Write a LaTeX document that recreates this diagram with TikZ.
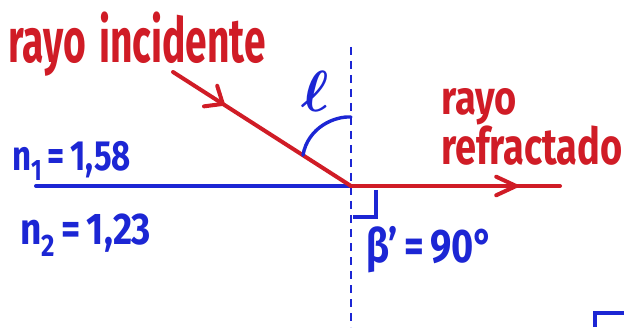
\documentclass[tikz,border=0pt]{standalone}
\usepackage{amsmath}
\usepackage{fontspec}
\setmainfont{Fira Sans}
\usetikzlibrary{calc}
\definecolor{inkred}{RGB}{208,28,38}
\definecolor{inkblue}{RGB}{28,38,212}
\newcommand{\stretchy}[2]{\scalebox{1}[#1]{#2}}
\tikzset{
  redray/.style={draw=inkred, line width=4pt, line cap=round, line join=round},
  blueline/.style={draw=inkblue, line width=4pt, line cap=round},
  normalline/.style={draw=inkblue, line width=2.8pt, dash pattern=on 8pt off 6pt},
  redlabel/.style={text=inkred, inner sep=0pt, font=\bfseries\fontsize{38}{40}\selectfont},
  bluelabel/.style={text=inkblue, inner sep=0pt, font=\bfseries\fontsize{36}{38}\selectfont}
}
\begin{document}
\begin{tikzpicture}[x=1pt, y=1pt]
\useasboundingbox[fill=white] (0,0) rectangle (624,327);
% points
\coordinate (O) at (351,141);
\coordinate (A) at (173,255);
\coordinate (R) at (560,141);
\coordinate (L) at (36,141);
\coordinate (Vt) at (351,280);
\coordinate (Vb) at (351,0);
% normal
\draw[normalline] (Vt) -- (Vb);
% interface
\draw[blueline] (L) -- (O);
% rays
\draw[redray] (O) -- (R);
\draw[redray] (A) -- (O);
% hand-drawn arrowheads
\coordinate (T1) at ($(A)!0.28!(O)$);
\draw[redray] ($(T1)!19pt!40:(A)$) -- (T1) -- ($(T1)!19pt!-40:(A)$);
\coordinate (T2) at ($(O)!0.79!(R)$);
\draw[redray] ($(T2)!22pt!25:(O)$) -- (T2) -- ($(T2)!22pt!-25:(O)$);
% angle arc
\coordinate (arcS) at (351,210);
\coordinate (arcE) at ($(O)!0.27!(A)$);
\draw[blueline, line width=3.4pt] (arcS) .. controls (335,211) and (308,200) .. (arcE);
% right angle mark
\draw[blueline, line width=3.4pt, line cap=butt] (376,137) -- (376,110) -- (353,110);
% corner of a box at bottom right
\draw[blueline, line width=4.5pt, line cap=butt] (595,0) -- (595,14) -- (626,14);
% labels
\node[redlabel, anchor=base west, font=\bfseries\fontsize{39}{41}\selectfont] (inc) at (8,264) {\stretchy{1.6}{rayo\hspace{4pt} incidente}};
\node[redlabel, anchor=base west] (ref1) at (441,212) {\stretchy{1.25}{rayo}};
\node[redlabel, anchor=base west] (ref2) at (441,162) {\stretchy{1.34}{refractado}};
\node[bluelabel, anchor=base west, font=\bfseries\fontsize{33}{35}\selectfont] (n1) at (12,156) {\stretchy{1.28}{n\textsubscript{1}\,=\,1,58}};
\node[bluelabel, anchor=base west, font=\bfseries\fontsize{37}{39}\selectfont] (n2) at (20,82) {\stretchy{1.2}{n\textsubscript{2}\,=\,1,23}};
\node[bluelabel, anchor=base west, font=\bfseries\fontsize{38}{40}\selectfont] (beta) at (366,64) {\stretchy{1.24}{β'\,=\,90°}};
\node[text=inkblue, inner sep=0pt, font=\fontsize{10}{12}\selectfont] (ell) at (315,236) {\scalebox{5.8}{$\boldsymbol{\ell}$}};
\end{tikzpicture}
\end{document}
